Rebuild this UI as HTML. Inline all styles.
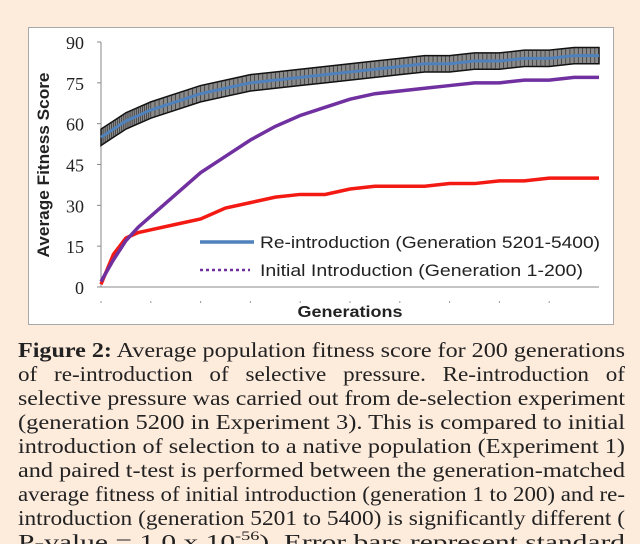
<!DOCTYPE html>
<html><head><meta charset="utf-8"><style>
body{margin:0;width:640px;height:544px;background:#fdebdc;overflow:hidden;position:relative;font-family:"Liberation Sans",sans-serif}
#box{position:absolute;left:28px;top:27px;width:586px;height:298px;background:#fff;border:1px solid #a8a8a8;box-sizing:border-box}
</style></head><body>
<div id="box"></div>
<svg id="chart" width="640" height="330" style="position:absolute;left:0;top:0"></svg>
<svg width="640" height="214" style="position:absolute;left:0;top:330px" font-family="Liberation Serif, serif" font-size="21" fill="#222">
<text x="18" y="27" textLength="607" lengthAdjust="spacingAndGlyphs"><tspan font-weight="bold">Figure 2:</tspan> Average population fitness score for 200 generations</text>
<text x="18" y="51" textLength="607" lengthAdjust="spacingAndGlyphs" word-spacing="10">of re-introduction of selective pressure. Re-introduction of</text>
<text x="18" y="75" textLength="607" lengthAdjust="spacingAndGlyphs">selective pressure was carried out from de-selection experiment</text>
<text x="18" y="99" textLength="607" lengthAdjust="spacingAndGlyphs">(generation 5200 in Experiment 3). This is compared to initial</text>
<text x="18" y="123" textLength="607" lengthAdjust="spacingAndGlyphs">introduction of selection to a native population (Experiment 1)</text>
<text x="18" y="147" textLength="607" lengthAdjust="spacingAndGlyphs">and paired t-test is performed between the generation-matched</text>
<text x="18" y="171" textLength="607" lengthAdjust="spacingAndGlyphs">average fitness of initial introduction (generation 1 to 200) and re-</text>
<text x="18" y="195" textLength="607" lengthAdjust="spacingAndGlyphs">introduction (generation 5201 to 5400) is significantly different (</text>
<text x="18" y="219" textLength="607" lengthAdjust="spacingAndGlyphs">P-value = 1.0 x 10<tspan font-size="13" dy="-9">-56</tspan><tspan dy="9">). Error bars represent standard</tspan></text>
</svg>
<script>
const gens=[0,5,10,15,20,30,40,50,60,70,80,90,100,110,120,130,140,150,160,170,180,190,200];
const blue=[55,58,61,63,65,68,71,73,75,76,77,78,79,80,81,82,82,83,83,84,84,85,85];
const purple=[2,10,17,22,26,34,42,48,54,59,63,66,69,71,72,73,74,75,75,76,76,77,77];
const red=[1,12,18,20,21,23,25,29,31,33,34,34,36,37,37,37,38,38,39,39,40,40,40];
const err=[3,3,3,3,3,3,3,3,3,3,3,3,3,3,3,3,3,3,3,3,3,3,3];
const yTicks=[0,15,30,45,60,75,90];
const ns="http://www.w3.org/2000/svg",svg=document.getElementById('chart');
const X=g=>101+g/200*498, Y=v=>287-v/90*245;
function mk(t,a){const e=document.createElementNS(ns,t);for(const k in a)e.setAttribute(k,a[k]);svg.appendChild(e);return e;}
let ax=mk('line',{x1:101,y1:42,x2:101,y2:287,stroke:'#888'});


let axx=mk('line',{x1:101,y1:287,x2:599,y2:287,stroke:'#888'});


yTicks.forEach(v=>{let t=mk('text',{x:84,y:Y(v)+7,'text-anchor':'end','font-family':'Liberation Serif, serif','font-size':18,fill:'#222'});t.textContent=v;


mk('line',{x1:97,y1:Y(v),x2:101,y2:Y(v),stroke:'#888'});});
for(let g=0;g<200;g+=20){let d=mk('line',{x1:X(g),y1:301,x2:X(g),y2:303,stroke:'#999'});}
let yt=mk('text',{x:0,y:0,transform:'translate(49,165) rotate(-90)','text-anchor':'middle','font-size':17,'font-weight':'bold',fill:'#222',textLength:185,lengthAdjust:'spacingAndGlyphs'});yt.textContent='Average Fitness Score';


let xt=mk('text',{x:350,y:317,'text-anchor':'middle','font-size':16,'font-weight':'bold',fill:'#222',textLength:105,lengthAdjust:'spacingAndGlyphs'});xt.textContent='Generations';


const pts=a=>gens.map((g,i)=>X(g)+','+Y(a[i])).join(' ');
let up=gens.map((g,i)=>X(g)+','+Y(blue[i]+err[i])),lo=gens.map((g,i)=>X(g)+','+Y(blue[i]-err[i])).reverse();
let band=mk('polygon',{points:up.concat(lo).join(' '),fill:'#8a8a8a',stroke:'#111','stroke-width':1.5});


for(let i=0;i<gens.length-1;i++){for(let k=0;k<6;k++){const f=k/6,g=gens[i]+(gens[i+1]-gens[i])*f,b=blue[i]+(blue[i+1]-blue[i])*f,e=err[i];
let l=mk('line',{x1:X(g),y1:Y(b+e),x2:X(g),y2:Y(b-e),stroke:'#222','stroke-width':0.6});}}
let rl=mk('polyline',{points:pts(red),fill:'none',stroke:'#f41a14','stroke-width':3.5});


let pl=mk('polyline',{points:pts(purple),fill:'none',stroke:'#7030a0','stroke-width':3.5});


let bl=mk('polyline',{points:pts(blue),fill:'none',stroke:'#4f81bd','stroke-width':3});


let l1=mk('line',{x1:200,y1:242,x2:254,y2:242,stroke:'#4f81bd','stroke-width':3.5});


let t1=mk('text',{x:260,y:248,'font-size':17,fill:'#222',textLength:340,lengthAdjust:'spacingAndGlyphs'});t1.textContent='Re-introduction (Generation 5201-5400)';


let l2=mk('line',{x1:200,y1:270,x2:250,y2:270,stroke:'#7030a0','stroke-width':2.5,'stroke-dasharray':'3,3'});


let t2=mk('text',{x:260,y:276,'font-size':17,fill:'#222',textLength:323,lengthAdjust:'spacingAndGlyphs'});t2.textContent='Initial Introduction (Generation 1-200)';


</script>
</body></html>
